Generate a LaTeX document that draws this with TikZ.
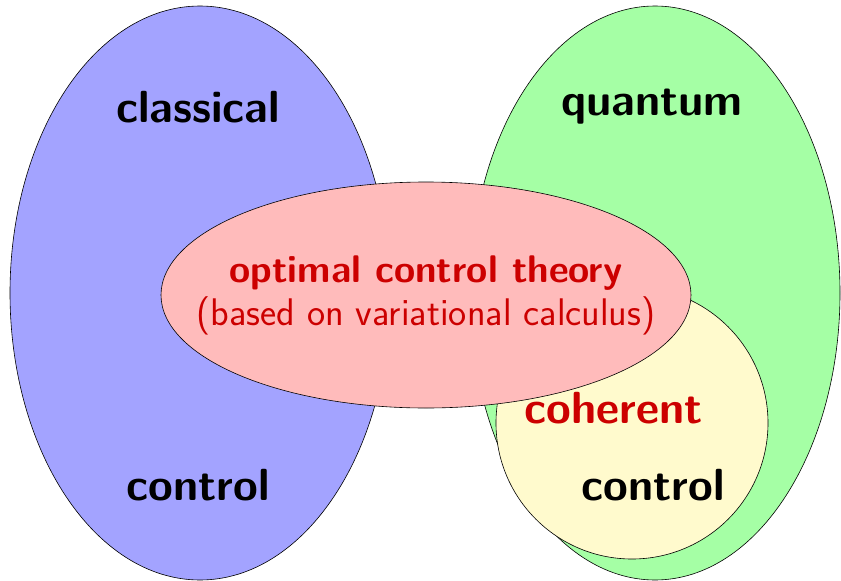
\documentclass[tikz,border=0pt]{standalone}
\usetikzlibrary{shapes.geometric}
\definecolor{classblue}{RGB}{163,163,255}
\definecolor{quantgreen}{RGB}{165,255,165}
\definecolor{cohyellow}{RGB}{255,250,205}
\definecolor{optpink}{RGB}{255,187,187}
\definecolor{optred}{RGB}{204,0,0}
\tikzset{blob/.style = {shape = ellipse, draw, line width = 0.6pt, inner sep = 0pt}}
\tikzset{word/.style = {anchor = base, inner sep = 0pt, font = \sffamily\bfseries\fontsize{45}{50}\selectfont}}
\tikzset{note/.style = {anchor = base, inner sep = 0pt, text = optred, font = \sffamily\fontsize{38.5}{44}\selectfont}}

\begin{document}
\begin{tikzpicture}[x=1pt,y=-1pt]
			\useasboundingbox (0,0) rectangle (841,581);

			\node[blob, fill = classblue, minimum width = 380pt, minimum height = 574pt] (cl) at (200, 293) {};
			\node[blob, fill = quantgreen, minimum width = 370pt, minimum height = 574pt] (qu) at (655, 293) {};
			\node[blob, shape = circle, fill = cohyellow, minimum size = 272pt] (co) at (632, 423) {};
			\node[blob, fill = optpink, minimum width = 530pt, minimum height = 226pt] (oc) at (426, 295) {};

			\node[word] (w1) at (198, 122) {classical};
			\node[word] (w2) at (198, 500) {control};
			\node[word] (w3) at (652, 115) {quantum};
			\node[word, text = optred] (w4) at (614, 423) {coherent};
			\node[word] (w5) at (653, 500) {control};
			\node[note, font = \sffamily\bfseries\fontsize{38.5}{44}\selectfont] (n1) at (426, 282) {optimal control theory};
			\node[note] (n2) at (426, 325) {(based on variational calculus)};
		\end{tikzpicture}
\end{document}
